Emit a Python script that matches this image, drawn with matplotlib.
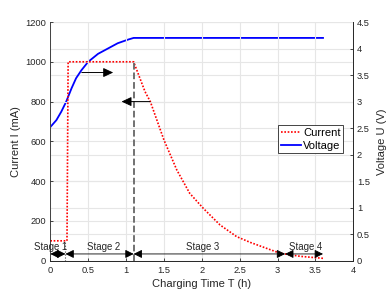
import numpy as np
import matplotlib.pyplot as plt

plt.rcParams['font.family'] = ['Liberation Sans', 'DejaVu Sans']

# current profile (mA)
t_cur = [0, 0.2, 0.22, 0.235, 1.1, 1.25, 1.32, 1.5, 1.67, 1.84, 2.02, 2.24, 2.46, 2.64, 3.03, 3.3, 3.6]
i_cur = [100, 100, 100, 1000, 1000, 850, 800, 607, 456, 339, 263, 180, 121, 92, 38, 22, 12]

# voltage profile (V)
t_volt = [0, 0.08, 0.145, 0.21, 0.28, 0.34, 0.41, 0.5, 0.63, 0.76, 0.89, 1.03, 1.1, 3.6]
u_volt = [2.52, 2.65, 2.81, 3.0, 3.25, 3.44, 3.59, 3.75, 3.9, 4.0, 4.1, 4.17, 4.2, 4.2]

# stage boundaries (h) and labels
stage_edges = [0, 0.2, 1.1, 3.1, 3.6]
stage_names = ['Stage 1', 'Stage 2', 'Stage 3', 'Stage 4']
stage_text_t = [0.0, 0.70, 2.01, 3.37]

# arrows pointing to the axis each curve belongs to (tail t, tip t, level mA)
arrow_right = (0.415, 0.83, 946)
arrow_left = (1.316, 0.94, 800)

dark = '#262626'
gridc = '#e6e6e6'

fig = plt.figure(figsize=(3.91, 2.93), dpi=100)
ax = fig.add_axes([0.1287, 0.1102, 0.7749, 0.8147])
ax2 = ax.twinx()
ax.set_zorder(2)
ax2.set_zorder(1)
ax.patch.set_visible(False)

# voltage on right axis
lv, = ax2.plot(t_volt, u_volt, color='blue', lw=1.3)
ax2.set_ylim(0, 4.5)
ax2.set_yticks(np.arange(0, 4.51, 0.5))
ax2.set_yticklabels(['0', '0.5', '1', '1.5', '2', '2.5', '3', '3.5', '4', '4.5'])
ax2.grid(True, color=gridc, lw=0.8)
ax2.set_ylabel('Voltage U (V)', fontsize=8, color=dark, labelpad=5)

# current on left axis
lc, = ax.plot(t_cur, i_cur, color='red', ls=(0, (1, 1)), lw=1.2)
ax.set_xlim(0, 4)
ax.set_ylim(0, 1200)
ax.set_xticks(np.arange(0, 4.01, 0.5))
ax.set_xticklabels(['0', '0.5', '1', '1.5', '2', '2.5', '3', '3.5', '4'])
ax.set_yticks(np.arange(0, 1201, 200))
ax.xaxis.grid(True, color=gridc, lw=0.8)
ax.yaxis.grid(True, color=gridc, lw=0.8)
ax.set_axisbelow(True)
ax.set_xlabel('Charging Time T (h)', fontsize=8, color=dark, labelpad=3)
ax.set_ylabel('Current I (mA)', fontsize=8, color=dark, labelpad=3)

for a in (ax, ax2):
    a.tick_params(direction='in', length=2.5, width=0.6, colors=dark, labelsize=6.7)
    for s in a.spines.values():
        s.set_color(dark)
        s.set_linewidth(0.6)
    a.spines['top'].set_visible(False)
ax.tick_params(axis='x', pad=4)
ax.tick_params(axis='y', pad=3)
ax2.tick_params(axis='y', pad=2.5)

# stage boundary lines
ax.plot([1.1, 1.1], [0, 1000], color='#666666', ls='--', lw=1.3, zorder=3)
ax.plot([0.2, 0.2], [0, 100], color='#444444', ls=':', lw=0.8, zorder=3)

# stage double arrows and labels
for k in range(4):
    ax.annotate('', xy=(stage_edges[k + 1], 34), xytext=(stage_edges[k], 34),
                arrowprops=dict(arrowstyle='<|-|>,head_length=0.5,head_width=0.25',
                                color='k', lw=0.6, shrinkA=0, shrinkB=0), zorder=4)
    ax.text(stage_text_t[k], 70, stage_names[k], fontsize=6.9, color=dark,
            ha='center', va='center', zorder=4)

# arrows pointing to axes
for tail, tip, lev in (arrow_right, arrow_left):
    ax.annotate('', xy=(tip, lev), xytext=(tail, lev),
                arrowprops=dict(arrowstyle='-|>,head_length=0.6,head_width=0.28',
                                color='k', lw=0.7, shrinkA=0, shrinkB=0), zorder=4)

leg = ax.legend([lc, lv], ['Current', 'Voltage'], loc='upper right',
                bbox_to_anchor=(0.967, 0.568), borderaxespad=0, fontsize=8,
                handlelength=1.8, handletextpad=0.2, labelspacing=0.25,
                borderpad=0.25, fancybox=False, framealpha=1, edgecolor=dark)
leg.get_frame().set_linewidth(0.6)

fig.savefig('out.png', dpi=100)
